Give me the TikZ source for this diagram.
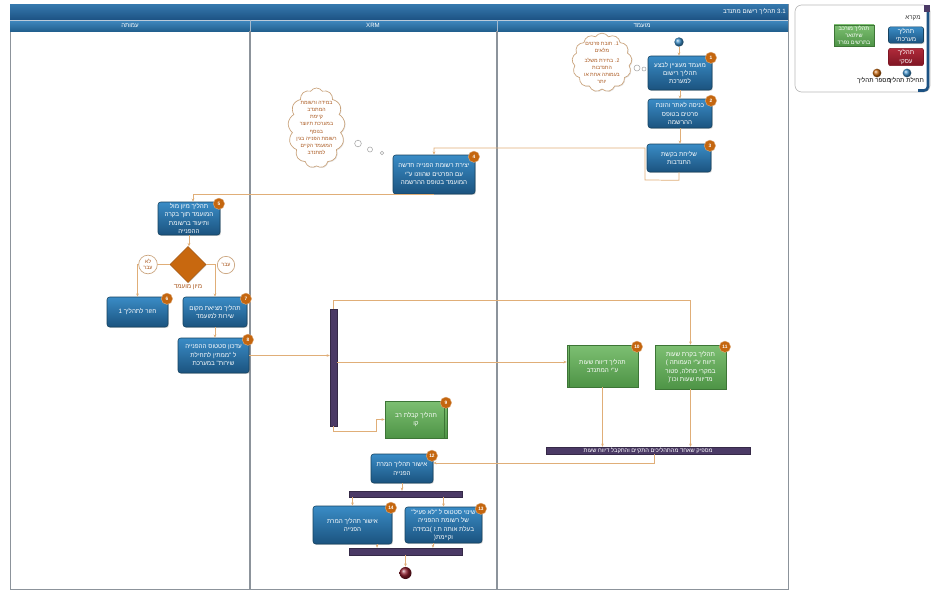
\documentclass[tikz,border=0pt]{standalone}
\usepackage{fontspec}
\setmainfont{Liberation Sans}
\newfontfamily\hebfont[Script=Hebrew]{Liberation Sans}
\TeXXeTstate=1
\usetikzlibrary{shapes.geometric,shapes.symbols,shadows,arrows.meta}
\newcommand{\hb}[1]{\beginR#1\endR}
\newcommand{\lr}[1]{\beginL#1\endL{}}
\definecolor{sysTop}{HTML}{3A8CC6}
\definecolor{sysBot}{HTML}{1B537F}
\definecolor{sysBorder}{HTML}{16425F}
\definecolor{grnTop}{HTML}{7DBF72}
\definecolor{grnBot}{HTML}{4E9446}
\definecolor{grnBorder}{HTML}{3D7536}
\definecolor{redTop}{HTML}{B02A3A}
\definecolor{redBot}{HTML}{7E1523}
\definecolor{badgeC}{HTML}{C4660F}
\definecolor{connC}{HTML}{E0AE78}
\definecolor{purp}{HTML}{4B3A66}
\definecolor{cloudline}{HTML}{C9A27A}
\definecolor{cloudText}{HTML}{A9561C}
\definecolor{hdrTop}{HTML}{3679AE}
\definecolor{hdrBot}{HTML}{1C5283}
\definecolor{laneTop}{HTML}{4089C0}
\definecolor{laneBot}{HTML}{22608F}
\definecolor{lanegray}{HTML}{8C939B}
\definecolor{endred}{HTML}{8E1B2A}
\definecolor{diaC}{HTML}{C8680F}
\tikzset{
  basefont/.style={font=\hebfont\fontsize{4.7}{6.3}\selectfont},
  sysbox/.style={rectangle, rounded corners=2pt, draw=sysBorder, line width=0.4pt, top color=sysTop, bottom color=sysBot, text=white, align=center, inner sep=1pt, basefont, drop shadow={shadow xshift=0.7pt, shadow yshift=-0.7pt, opacity=0.3}},
  grnbox/.style={rectangle, draw=grnBorder, line width=0.4pt, top color=grnTop, bottom color=grnBot, text=white, align=center, inner sep=1pt, basefont, drop shadow={shadow xshift=0.7pt, shadow yshift=-0.7pt, opacity=0.3}},
  redbox/.style={rectangle, rounded corners=1.5pt, draw=redBot, line width=0.4pt, top color=redTop, bottom color=redBot, text=white, align=center, inner sep=1pt, basefont},
  badgest/.style={circle, fill=badgeC, draw=badgeC!55!white, line width=0.3pt, minimum size=8.5pt, inner sep=0pt, text=white, font=\bfseries\fontsize{3.6}{4}\selectfont},
  conn/.style={draw=connC, line width=0.55pt},
  arr/.style={conn, -{Stealth[length=2.4pt,width=2pt]}},
  barst/.style={rectangle, fill=purp, draw=purp!70!black, line width=0.3pt, inner sep=0pt},
  cloudst/.style={cloud, cloud puffs=13, cloud puff arc=115, cloud ignores aspect, draw=cloudline, fill=white, line width=0.5pt, inner sep=0pt, drop shadow={shadow xshift=0.6pt, shadow yshift=-0.6pt, opacity=0.2}},
  cloudtxt/.style={text=cloudText, align=center, font=\hebfont\fontsize{3.9}{5.3}\selectfont},
  bubble/.style={circle, draw=gray!70, fill=white, line width=0.4pt, inner sep=0pt},
  lblcirc/.style={circle, draw=cloudline, fill=white, line width=0.5pt, inner sep=0pt, text=cloudText, align=center, font=\hebfont\fontsize{4}{4.6}\selectfont},
  hdrtext/.style={text=white, font=\hebfont\fontsize{4.6}{5.5}\selectfont, inner sep=0pt},
}
\newcommand{\badge}[2]{\node[badgest] (b#1) at ([xshift=-1pt,yshift=-1.5pt]#2.north east) {#1};}
\begin{document}
\begin{tikzpicture}[x=0.75pt,y=-0.75pt]
\useasboundingbox (0,0) rectangle (932,590);
\fill[white] (0,0) rectangle (932,590);
% ---------- swimlanes ----------
\draw[lanegray, line width=0.7pt, fill=white] (10,4) rectangle (788,589);
\shade[top color=hdrTop, bottom color=hdrBot] (10,4) rectangle (788,20);
\shade[top color=laneTop, bottom color=laneBot] (10,20) rectangle (788,31);
\draw[white!70!hdrBot, line width=0.4pt] (10,20) -- (788,20);
\draw[white!60!hdrBot, line width=0.5pt] (250,20) -- (250,31) (497,20) -- (497,31);
\node[hdrtext, anchor=east] (title) at (786,12) {\hb{\lr{3.1} תהליך רישום מתנדב}};
\node[hdrtext] (laneA) at (130,25.8) {\hb{עמותה}};
\node[hdrtext] (laneB) at (373,25.8) {XRM};
\node[hdrtext] (laneC) at (642,25.8) {\hb{מועמד}};
\draw[lanegray, line width=1.2pt] (250,31) -- (250,589) (497,31) -- (497,589);
% ---------- legend ----------
\draw[rounded corners=5pt, draw=gray!55, fill=white, line width=0.5pt] (795,5) rectangle (930,92);
\draw[hdrBot, line width=2pt, rounded corners=3pt] (928,12) -- (928,90.5) -- (918,90.5);
\fill[purp] (924,5) rectangle (930,12);
\node[text=black!80, basefont] (legT) at (913,18) {\hb{מקרא}};
\node[sysbox, rounded corners=1.5pt, minimum width=26.25pt, minimum height=12pt] (legS) at (906,35) {\hb{תהליך}\\\hb{מערכתי}};
\node[redbox, minimum width=26.25pt, minimum height=12pt] (legR) at (906,57) {\hb{תהליך}\\\hb{עסקי}};
\node[grnbox, minimum width=30pt, minimum height=15.75pt, font=\hebfont\fontsize{4.2}{5.3}\selectfont] (legG) at (854,35.5) {\hb{תהליך מורכב}\\\hb{שיתואר}\\\hb{בתרשים נפרד}};
\node[circle, ball color=badgeC, minimum size=6.5pt, inner sep=0pt] (legO) at (877,73) {};
\node[circle, ball color=sysTop, minimum size=6.5pt, inner sep=0pt] (legB) at (907,73) {};
\node[basefont, text=black, inner sep=0pt] (legOt) at (874,81) {\hb{מספר תהליך}};
\node[basefont, text=black, inner sep=0pt] (legBt) at (906,81) {\hb{תחילת תהליך}};
% ---------- right lane ----------
\node[circle, ball color=sysTop, minimum size=7pt, inner sep=0pt] (start) at (679,42) {};
\node[sysbox, minimum width=48pt, minimum height=25.5pt] (n1) at (680,73) {\hb{מועמד מעוניין לבצע}\\\hb{תהליך רישום}\\\hb{למערכת}};
\node[sysbox, minimum width=48pt, minimum height=21.75pt] (n2) at (680,113.5) {\hb{כניסה לאתר והזנת}\\\hb{פרטים בטופס}\\\hb{ההרשמה}};
\node[sysbox, minimum width=48pt, minimum height=21pt] (n3) at (679,158) {\hb{שליחת בקשת}\\\hb{התנדבות}};
\badge{1}{n1}
\badge{2}{n2}
\badge{3}{n3}
\node[cloudst, minimum width=45pt, minimum height=44pt] (cl1) at (602,62.5) {};
\node[cloudtxt] (cl1t) at (602,62.5) {\hb{\lr{1.} חובת פרטים}\\\hb{מלאים}\\[2pt]\hb{\lr{2.} בחירת משלב}\\\hb{התנדבות}\\\hb{בעמותה אחת או}\\\hb{יותר}};
\node[bubble, minimum size=4.5pt] (cb1) at (637,68) {};
\node[bubble, minimum size=3pt] (cb2) at (644,69) {};
\draw[arr] (start) -- (start |- n1.north);
\draw[arr] (n1.south) -- (n1.south |- n2.north);
\draw[arr] (n2.south) -- (n2.south |- n3.north);
% ---------- XRM lane ----------
\node[sysbox, minimum width=61.5pt, minimum height=29.25pt] (n4) at (434,174.5) {\hb{יצירת רשומת הפנייה חדשה}\\\hb{עם הפרטים שהוזנו ע"י}\\\hb{המועמד בטופס ההרשמה}};
\badge{4}{n4}
\node[cloudst, minimum width=42.75pt, minimum height=60pt] (cl2) at (316.5,128) {};
\node[cloudtxt] (cl2t) at (316.5,128) {\hb{במידה ורשומת}\\\hb{המתנדב}\\\hb{קיימת}\\\hb{במערכת תיווצר}\\\hb{בנוסף}\\\hb{רשומת הפנייה בגין}\\\hb{המועמד הקיים}\\\hb{למתנדב}};
\node[bubble, minimum size=5pt] (cb3) at (358,143.5) {};
\node[bubble, minimum size=3.8pt] (cb4) at (370,149.5) {};
\node[bubble, minimum size=2.6pt] (cb5) at (382,153) {};
\draw[arr] (n3.south) -- ++(0,8) -- (645,180) -- (645,148) -- (n4.north |- 0,148) -- (n4.north);
% ---------- association lane ----------
\node[sysbox, minimum width=46.5pt, minimum height=24.75pt] (n5) at (189,218.5) {\hb{תהליך מיון מול}\\\hb{המועמד תוך בקרה}\\\hb{ותיעוד ברשומת}\\\hb{ההפנייה}};
\badge{5}{n5}
\draw[arr] (n4.south) -| ([xshift=3pt]n5.north);
\node[diamond, fill=diaC, draw=diaC!80!black, line width=0.4pt, minimum width=27pt, minimum height=27pt, inner sep=0pt, drop shadow={shadow xshift=0.6pt, shadow yshift=-0.6pt, opacity=0.25}] (dia) at (188,264.5) {};
\node[text=cloudText, basefont, inner sep=0pt] (dial) at (188,287) {\hb{מיון מועמד}};
\draw[arr] (n5.south) -- (n5.south |- dia.north);
\node[sysbox, minimum width=45.75pt, minimum height=22.5pt] (n6) at (137.5,312) {\hb{חזור לתהליך 1}};
\node[sysbox, minimum width=48pt, minimum height=22.5pt] (n7) at (215,312) {\hb{תהליך מציאת מקום}\\\hb{שירות למועמד}};
\node[sysbox, minimum width=53.25pt, minimum height=26.25pt] (n8) at (213.5,355.5) {\hb{עדכון סטטוס ההפנייה}\\\hb{ל "ממתין לתחילת}\\\hb{שירות" במערכת}};
\badge{6}{n6}
\badge{7}{n7}
\badge{8}{n8}
\draw[arr] (dia.west) -| (n6.north);
\draw[arr] (dia.east) -| (n7.north);
\node[lblcirc, minimum size=14pt] (lno) at (148,264.5) {\hb{לא}\\\hb{עבר}};
\node[lblcirc, minimum size=13pt] (lyes) at (226,265) {\hb{עבר}};
\draw[arr] (n7.south) -- (n7.south |- n8.north);
% ---------- sync bar and hours ----------
\node[barst, minimum width=5.25pt, minimum height=87.75pt] (vb) at (333.5,367.5) {};
\draw[arr] (n8.east) -- (vb.west |- n8.east);
\node[grnbox, minimum width=53.25pt, minimum height=31.5pt] (n10) at (602.5,366) {\hb{תהליך דיווח שעות}\\\hb{ע"י המתנדב}};
\node[grnbox, minimum width=53.25pt, minimum height=33pt] (n11) at (690.5,367) {\hb{תהליך בקרת שעות}\\\hb{דיווח ע"י העמותה )}\\\hb{במקרי מחלה, פטור}\\\hb{מדיווח שעות וכו'(}};
\node[grnbox, minimum width=46.5pt, minimum height=27.75pt] (n9) at (416,419.5) {\hb{תהליך קבלת רב}\\\hb{קו}};
\draw[grnBorder, line width=0.4pt] ([xshift=2pt]n10.north west) -- ([xshift=2pt]n10.south west);
\draw[grnBorder, line width=0.4pt] ([xshift=-2.5pt]n9.north east) -- ([xshift=-2.5pt]n9.south east);
\badge{9}{n9}
\badge{10}{n10}
\badge{11}{n11}
\draw[arr] (vb.north) -- ++(0,-8) -| (n11.north);
\draw[arr] (vb.east |- 0,362) -- (n10.west |- 0,362);
\draw[arr] (vb.south) -- ++(0,5) -| ([xshift=-6pt]n9.west) -- (n9.west);
\node[barst, minimum width=153pt, minimum height=5.25pt, text=white, font=\hebfont\fontsize{4.3}{5}\selectfont] (hb1) at (648,450.5) {\hb{מספיק שאחד מהתהליכים התקיים והתקבל דיווח שעות}};
\draw[arr] (n10.south) -- (n10.south |- hb1.north);
\draw[arr] (n11.south) -- (n11.south |- hb1.north);
% ---------- closing ----------
\node[sysbox, minimum width=46.5pt, minimum height=21.75pt] (n12) at (402,468.5) {\hb{אישור תהליך המרת}\\\hb{הפנייה}};
\badge{12}{n12}
\draw[arr] ([xshift=4.5pt]hb1.south) |- (n12.east |- 0,463);
\node[barst, minimum width=84.75pt, minimum height=4.5pt] (hb2) at (405.5,494) {};
\draw[arr] (n12.south) -- (n12.south |- hb2.north);
\node[sysbox, minimum width=57.75pt, minimum height=27pt] (n13) at (443.5,525) {\hb{שינוי סטטוס ל "לא פעיל"}\\\hb{של רשומת ההפנייה}\\\hb{בעלת אותה ת.ז )במידה}\\\hb{וקיימת(}};
\node[sysbox, minimum width=59.25pt, minimum height=28.5pt] (n14) at (352.5,525) {\hb{אישור תהליך המרת}\\\hb{הפנייה}};
\badge{13}{n13}
\badge{14}{n14}
\draw[arr] (n14.north |- hb2.south) -- (n14.north);
\draw[arr] (n13.north |- hb2.south) -- (n13.north);
\node[barst, minimum width=84.75pt, minimum height=5.25pt] (hb3) at (405.5,551.5) {};
\draw[arr] ([xshift=18.4pt]n14.south) -- ([xshift=18.4pt]n14.south |- hb3.north);
\draw[arr] ([xshift=-7.9pt]n13.south) -- ([xshift=-7.9pt]n13.south |- hb3.north);
\node[circle, ball color=endred, minimum size=9pt, inner sep=0pt] (endc) at (405.5,573) {};
\draw[arr] (hb3.south) -- (endc.north);
\end{tikzpicture}
\end{document}
